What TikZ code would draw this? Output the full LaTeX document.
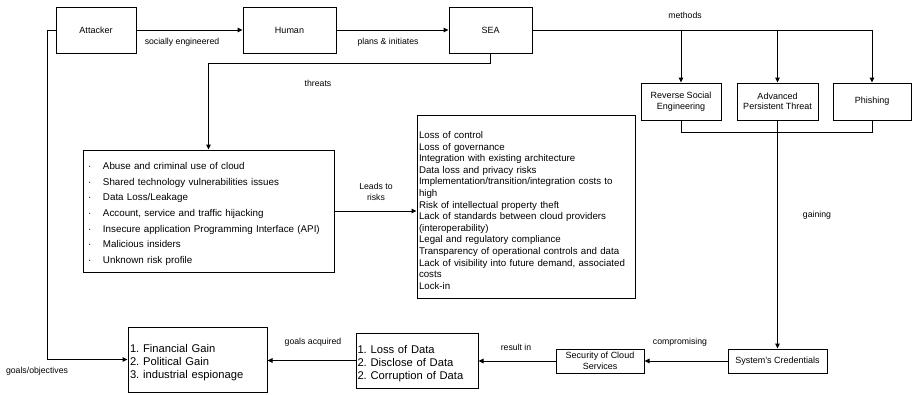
\documentclass[tikz,border=0pt]{standalone}
\usepackage{fontspec}
\setmainfont{Liberation Sans}
\usetikzlibrary{arrows.meta}
\newcommand\bulletmark{\makebox[15pt][l]{\textperiodcentered}}
\newcommand\firstlinestrut[1]{\rule{0pt}{#1}}
\frenchspacing

\begin{document}
\begin{tikzpicture}[x=1pt,y=-1pt,
  box/.style={draw, line width=1pt, align=center, inner sep=1pt,
    font=\fontsize{9}{10.5}\selectfont},
  wire/.style={line width=1pt},
  arr/.style={wire, -{Triangle[length=5pt,width=4.5pt]}},
  lbl/.style={font=\fontsize{8.7}{10.5}\selectfont, align=center, inner sep=0pt},
]
\useasboundingbox (0,0) rectangle (912,394);

% top row
\node[box, minimum width=80pt, minimum height=46pt] (attacker) at (96,30) {Attacker};
\node[box, minimum width=93pt, minimum height=46pt] (human) at (289.5,30) {Human};
\node[box, minimum width=83pt, minimum height=46pt] (sea) at (490.5,30) {SEA};

% methods
\node[box, minimum width=80pt, minimum height=37pt] (rse) at (681,101.5) {Reverse Social\\Engineering};
\node[box, minimum width=81pt, minimum height=37pt] (apt) at (777.5,101.5) {Advanced\\Persistent Threat};
\node[box, minimum width=78pt, minimum height=37pt] (phishing) at (872,101.5) {Phishing};

% threats and risks
\node[box, minimum width=251pt, minimum height=122pt, text width=241pt, inner xsep=5pt,
  align=left, font=\fontsize{9.8}{15.7}\selectfont] (threats) at (208.5,211) {%
  \firstlinestrut{13pt}\bulletmark Abuse and criminal use of cloud\\
  \bulletmark Shared technology vulnerabilities issues\\
  \bulletmark Data Loss/Leakage\\
  \bulletmark Account, service and traffic hijacking\\
  \bulletmark Insecure application Programming Interface (API)\\
  \bulletmark Malicious insiders\\
  \bulletmark Unknown risk profile};

\node[box, minimum width=218pt, minimum height=183pt, text width=214pt, inner xsep=2pt,
  align=left, font=\fontsize{9.7}{11.6}\selectfont] (risks) at (526,206.5) {%
  \firstlinestrut{15pt}Loss of control\\
  Loss of governance\\
  Integration with existing architecture\\
  Data loss and privacy risks\\
  Implementation/transition/integration costs to\\
  high\\
  Risk of intellectual property theft\\
  Lack of standards between cloud providers\\
  (interoperability)\\
  Legal and regulatory compliance\\
  Transparency of operational controls and data\\
  Lack of visibility into future demand, associated\\
  costs\\
  Lock-in};

% bottom row
\node[box, minimum width=139pt, minimum height=65pt, text width=135pt, inner xsep=2pt,
  align=left, font=\fontsize{11.2}{12.7}\selectfont] (goals) at (197.5,359.5) {%
  \firstlinestrut{14pt}1. Financial Gain\\2. Political Gain\\3. industrial espionage};
\node[box, minimum width=122pt, minimum height=55pt, text width=119pt, inner xsep=1.5pt,
  align=left, font=\fontsize{11.2}{12.7}\selectfont] (loss) at (417,360.5) {%
  \firstlinestrut{14pt}1. Loss of Data\\2. Disclose of Data\\2. Corruption of Data};
\node[box, minimum width=88pt, minimum height=24pt] (security) at (600,361) {Security of Cloud\\Services};
\node[box, minimum width=99pt, minimum height=24pt] (cred) at (777.5,361) {System's Credentials};

% connectors
\draw[arr] (attacker) -- (human);
\draw[arr] (human) -- (sea);
\coordinate (mtop) at (phishing.north |- sea.east);
\draw[arr] (sea.east) -- (mtop) -- (phishing.north);
\draw[arr] (rse.north |- sea.east) -- (rse.north);
\draw[arr] (apt.north |- sea.east) -- (apt.north);
\coordinate (join) at (apt.south |- 0,132);
\draw[wire] (rse.south) -- (rse.south |- join) -- (phishing.south |- join) -- (phishing.south);
\draw[arr] (apt.south) -- (cred.north);
\draw[arr] (sea.south) -- ++(0,10) -| (threats.north);
\draw[arr] (threats.east) -- (risks.west |- threats.east);
\draw[arr] (attacker.west) -- ++(-8,0) |- (goals.west);
\draw[arr] (loss.west) -- (goals.east |- loss.west);
\draw[arr] (security.west) -- (loss.east |- security.west);
\draw[arr] (cred.west) -- (security.east);

% connector labels
\node[lbl] (l1) at (182,42) {socially engineered};
\node[lbl] (l2) at (388,42) {plans \& initiates};
\node[lbl] (l3) at (685,15) {methods};
\node[lbl] (l4) at (318,83) {threats};
\node[lbl] (l5) at (376,192) {Leads to\\risks};
\node[lbl] (l6) at (817,215) {gaining};
\node[lbl] (l7) at (37,371) {goals/objectives};
\node[lbl] (l8) at (313,342) {goals acquired};
\node[lbl] (l9) at (516,347) {result in};
\node[lbl] (l10) at (680,342) {compromising};
\end{tikzpicture}
\end{document}
